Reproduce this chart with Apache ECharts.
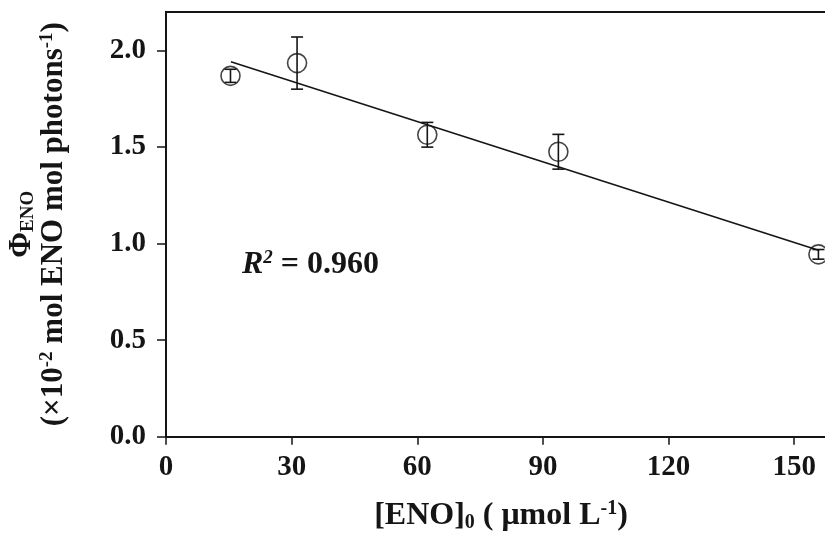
<!DOCTYPE html>
<html>
<head>
<meta charset="utf-8">
<script src="https://cdn.jsdelivr.net/npm/echarts@6/dist/echarts.min.js"></script>
<style>
html,body{margin:0;padding:0;background:#fff;}
#c{width:825px;height:535px;}
</style>
</head>
<body>
<div id="c"></div>
<script>
// ---- data ----
var concENO = [15.4, 31.3, 62.4, 93.7, 155.8];        // [ENO]0 (umol/L)
var phiENO  = [1.868, 1.934, 1.563, 1.475, 0.944];    // quantum yield (x1e-2)
var phiErr  = [0.034, 0.135, 0.064, 0.090, 0.025];    // error bar half-length
var fitX    = [15.5, 156];                            // regression line ends
var fitY    = [1.941, 0.964];
var xTicks  = [0, 30, 60, 90, 120, 150];
var yTicks  = [0.0, 0.5, 1.0, 1.5, 2.0];
var r2Text  = '0.960';

var FONT = '"Liberation Serif","Times New Roman",serif';
var INK = '#151515';

var points = concENO.map(function (x, i) { return [x, phiENO[i]]; });
var bars = concENO.map(function (x, i) { return [x, phiENO[i], phiErr[i]]; });
var fit = fitX.map(function (x, i) { return [x, fitY[i]]; });

var chart = echarts.init(document.getElementById('c'));
chart.setOption({
  animation: false,
  backgroundColor: '#fff',
  grid: { left: 166, top: 11.7, width: 670, height: 425, containLabel: false, outerBoundsMode: 'none' },
  xAxis: [{
    type: 'value', min: 0, max: 160, interval: 30,
    axisLine: { show: true, lineStyle: { color: INK, width: 2 } },
    axisTick: { show: true, inside: false, length: 8, lineStyle: { color: INK, width: 1.5 } },
    splitLine: { show: false },
    axisLabel: {
      margin: 16, fontFamily: FONT, fontWeight: 'bold', fontSize: 29, color: INK,
      showMaxLabel: false,
      formatter: function (v) { return xTicks.indexOf(v) >= 0 ? String(v) : ''; }
    },
    name: '{a|[ENO]}{s|0}{a| ( μmol L}{p|-1}{a|)}',
    nameLocation: 'middle', nameGap: 62,
    nameTextStyle: {
      rich: {
        a: { fontFamily: FONT, fontWeight: 'bold', fontSize: 32, color: INK, lineHeight: 34 },
        s: { fontFamily: FONT, fontWeight: 'bold', fontSize: 20, color: INK, verticalAlign: 'bottom' },
        p: { fontFamily: FONT, fontWeight: 'bold', fontSize: 20, color: INK, verticalAlign: 'top' }
      }
    }
  }, {
    type: 'value', position: 'top', min: 0, max: 160,
    axisLine: { show: true, lineStyle: { color: INK, width: 2 } },
    axisTick: { show: false }, axisLabel: { show: false }, splitLine: { show: false }
  }],
  yAxis: {
    type: 'value', min: 0, max: 2.2, interval: 0.5,
    axisLine: { show: true, lineStyle: { color: INK, width: 2 } },
    axisTick: { show: true, inside: false, length: 9, lineStyle: { color: INK, width: 1.5 } },
    splitLine: { show: false },
    axisLabel: {
      margin: 20, fontFamily: FONT, fontWeight: 'bold', fontSize: 29, color: INK,
      showMaxLabel: false,
      formatter: function (v) {
        for (var i = 0; i < yTicks.length; i++) {
          if (Math.abs(yTicks[i] - v) < 1e-9) return yTicks[i].toFixed(1);
        }
        return '';
      }
    },
    name: '{f|Φ}{s|ENO}\n{a|(×10}{p|-2}{a| mol ENO mol photons}{p|-1}{a|)}',
    nameLocation: 'middle', nameGap: 96, nameRotate: 90,
    nameTextStyle: {
      rich: {
        f: { fontFamily: FONT, fontWeight: 'bold', fontSize: 31, color: INK, lineHeight: 32 },
        a: { fontFamily: FONT, fontWeight: 'bold', fontSize: 31, color: INK, lineHeight: 32 },
        s: { fontFamily: FONT, fontWeight: 'bold', fontSize: 19, color: INK, verticalAlign: 'bottom' },
        p: { fontFamily: FONT, fontWeight: 'bold', fontSize: 19, color: INK, verticalAlign: 'top' }
      }
    }
  },
  graphic: [{
    type: 'text', left: 242, top: 249, z: 10,
    style: {
      text: '{r|R}{p|2}{a| = ' + r2Text + '}',
      rich: {
        r: { fontFamily: FONT, fontWeight: 'bold', fontStyle: 'italic', fontSize: 32, fill: INK, lineHeight: 32 },
        p: { fontFamily: FONT, fontWeight: 'bold', fontStyle: 'italic', fontSize: 19, fill: INK, verticalAlign: 'top' },
        a: { fontFamily: FONT, fontWeight: 'bold', fontSize: 32, fill: INK, lineHeight: 32 }
      }
    }
  }],
  series: [{
    type: 'line', data: fit, showSymbol: false, symbol: 'none',
    lineStyle: { color: INK, width: 1.6 }, z: 2, clip: false
  }, {
    type: 'custom', data: bars, z: 3, clip: false,
    renderItem: function (params, api) {
      var x = api.value(0), y = api.value(1), e = api.value(2);
      var top = api.coord([x, y + e]);
      var bot = api.coord([x, y - e]);
      var w = 6;
      var st = { stroke: INK, lineWidth: 1.6 };
      return {
        type: 'group',
        children: [
          { type: 'line', shape: { x1: top[0], y1: top[1], x2: bot[0], y2: bot[1] }, style: st },
          { type: 'line', shape: { x1: top[0] - w, y1: top[1], x2: top[0] + w, y2: top[1] }, style: st },
          { type: 'line', shape: { x1: bot[0] - w, y1: bot[1], x2: bot[0] + w, y2: bot[1] }, style: st }
        ]
      };
    }
  }, {
    type: 'scatter', data: points, symbol: 'circle', symbolSize: 19, z: 4, clip: false,
    itemStyle: { color: 'rgba(0,0,0,0)', borderColor: INK, borderWidth: 1.6 }
  }]
});
</script>
</body>
</html>
